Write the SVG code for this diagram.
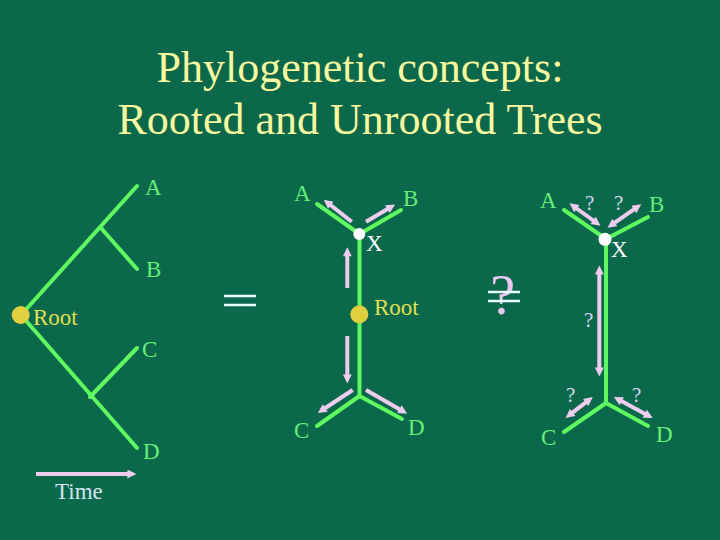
<svg xmlns="http://www.w3.org/2000/svg" width="720" height="540" viewBox="0 0 720 540">
<defs>
<marker id="ah" viewBox="0 0 10 10" refX="4" refY="5" markerWidth="10" markerHeight="9" markerUnits="userSpaceOnUse" orient="auto-start-reverse">
<path d="M0,0 L10,5 L0,10 z" fill="#eeccee"/>
</marker>
<style>
.bg{fill:#0c684a}
.title{font-family:"Liberation Serif","Times New Roman",serif;font-size:44px;fill:#f8f8a0;text-anchor:middle}
.lbl{font-family:"Liberation Serif","Times New Roman",serif;font-size:23px;fill:#66ee77}
.root{font-family:"Liberation Serif","Times New Roman",serif;font-size:23px;fill:#e0e050}
.xl{font-family:"Liberation Serif","Times New Roman",serif;font-size:23px;fill:#ffffff}
.q{font-family:"Liberation Serif","Times New Roman",serif;font-size:21px;fill:#d4d4ec}
.time{font-family:"Liberation Serif","Times New Roman",serif;font-size:23px;fill:#d4e4f0}
.br{stroke:#60f860;stroke-width:4;fill:none;stroke-linecap:round}
.pa{stroke:#eeccee;stroke-width:4;fill:none;marker-end:url(#ah)}
.pd{stroke:#eeccee;stroke-width:4;fill:none;marker-end:url(#ah);marker-start:url(#ah)}
.eq{stroke:#e8ffff;stroke-width:2.5}
</style>
</defs>
<rect class="bg" x="0" y="0" width="720" height="540"/>
<g id="title">
<text class="title" x="360" y="82">Phylogenetic concepts:</text>
<text class="title" x="360" y="134">Rooted and Unrooted Trees</text>
</g>
<g id="connectors">
<!-- left rooted tree -->
<line class="br" x1="21" y1="315" x2="137" y2="186"/>
<line class="br" x1="101" y1="228" x2="137" y2="269"/>
<line class="br" x1="21" y1="315" x2="137" y2="448"/>
<line class="br" x1="90" y1="397" x2="137" y2="348"/>
<line class="pa" x1="36" y1="474" x2="131" y2="474"/>
<!-- middle tree -->
<line class="br" x1="359.5" y1="234" x2="317" y2="204"/>
<line class="br" x1="359.5" y1="234" x2="401" y2="210"/>
<line class="br" x1="359.5" y1="234" x2="359.5" y2="396"/>
<line class="br" x1="359.5" y1="396" x2="317" y2="426"/>
<line class="br" x1="359.5" y1="396" x2="402" y2="419"/>
<line class="pa" x1="351.7" y1="221.7" x2="328" y2="203"/>
<line class="pa" x1="366" y1="221.7" x2="390.5" y2="207.3"/>
<line class="pa" x1="347.3" y1="288" x2="347.3" y2="252.7"/>
<line class="pa" x1="347.3" y1="336" x2="347.3" y2="378"/>
<line class="pa" x1="352.7" y1="390" x2="322.3" y2="410"/>
<line class="pa" x1="366" y1="390" x2="402.5" y2="411"/>
<!-- right tree -->
<line class="br" x1="606" y1="239" x2="564" y2="210"/>
<line class="br" x1="606" y1="239" x2="648" y2="217"/>
<line class="br" x1="606" y1="239" x2="606" y2="403"/>
<line class="br" x1="606" y1="403" x2="564" y2="432"/>
<line class="br" x1="606" y1="403" x2="648" y2="426"/>
<line class="pd" x1="596.1" y1="222.5" x2="573.9" y2="206.5"/>
<line class="pd" x1="611.9" y1="224.6" x2="636.8" y2="207.4"/>
<line class="pd" x1="599.3" y1="271" x2="599.3" y2="371"/>
<line class="pd" x1="569.8" y1="414.7" x2="588.5" y2="400.3"/>
<line class="pd" x1="618.6" y1="399.5" x2="648" y2="415.5"/>
</g>
<g id="left-tree">
<circle cx="20.7" cy="315" r="9" fill="#e0d040"/>
<text class="root" x="33" y="325">Root</text>
<text class="lbl" x="145" y="195">A</text>
<text class="lbl" x="146" y="277">B</text>
<text class="lbl" x="142" y="357">C</text>
<text class="lbl" x="143" y="459">D</text>
<text class="time" x="55" y="499">Time</text>
</g>
<g id="equals">
<line class="eq" x1="224" y1="296" x2="256" y2="296"/>
<line class="eq" x1="224" y1="305" x2="256" y2="305"/>
</g>
<g id="middle-tree">
<circle cx="359.3" cy="234" r="6" fill="#ffffff"/>
<circle cx="359.3" cy="314.3" r="9" fill="#e0d040"/>
<text class="lbl" x="294" y="201">A</text>
<text class="lbl" x="403" y="206">B</text>
<text class="xl" x="366" y="251">X</text>
<text class="root" x="374" y="315">Root</text>
<text class="lbl" x="294" y="438">C</text>
<text class="lbl" x="408" y="435">D</text>
</g>
<g id="not-equal">
<text x="502.7" y="314" style="font-family:'Liberation Serif','Times New Roman',serif;font-size:56px;fill:#e8c8f0;text-anchor:middle">?</text>
<line class="eq" x1="488" y1="292" x2="520" y2="292"/>
<line class="eq" x1="488" y1="301" x2="520" y2="301"/>
</g>
<g id="right-tree">
<circle cx="605" cy="239.3" r="6.5" fill="#ffffff"/>
<text class="lbl" x="540" y="208">A</text>
<text class="lbl" x="649" y="212">B</text>
<text class="xl" x="611" y="257">X</text>
<text class="q" x="585" y="210">?</text>
<text class="q" x="614" y="210">?</text>
<text class="q" x="584" y="327">?</text>
<text class="q" x="566" y="402">?</text>
<text class="q" x="632" y="402">?</text>
<text class="lbl" x="541" y="445">C</text>
<text class="lbl" x="656" y="442">D</text>
</g>
</svg>
